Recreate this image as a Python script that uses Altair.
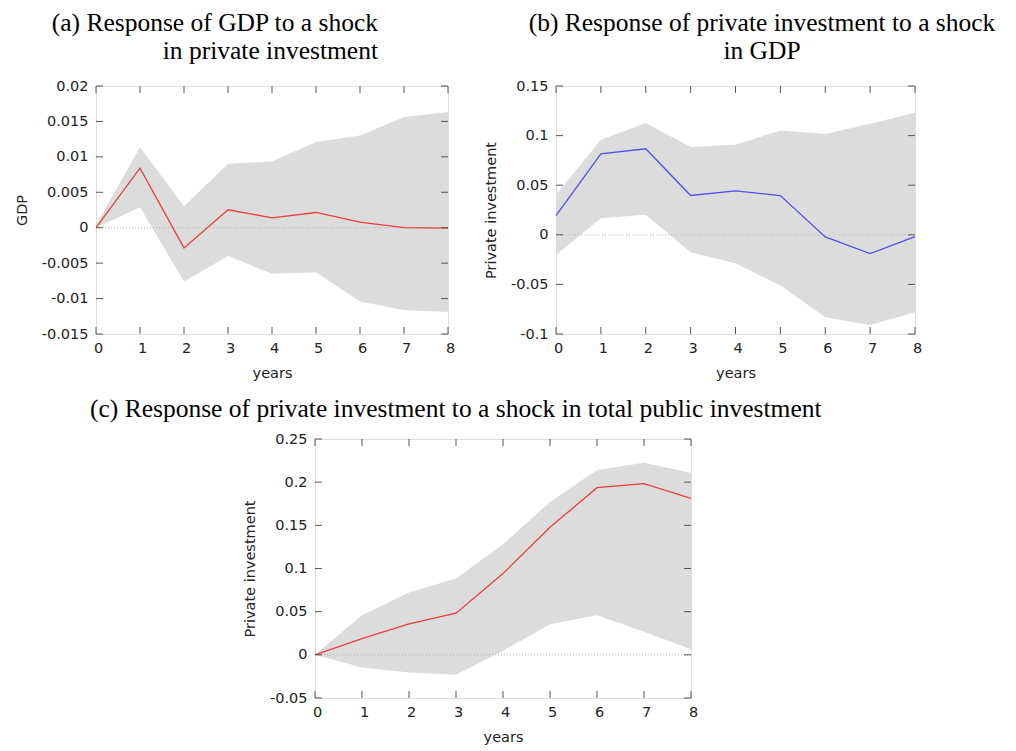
import altair as alt
import pandas as pd

years = list(range(9))

# (a) Response of GDP to a shock in private investment
a_irf = [0.0, 0.0084, -0.00285, 0.00253, 0.0014, 0.00215, 0.00078, 0.0, -0.00005]
a_hi = [0.0004, 0.01137, 0.00304, 0.00903, 0.00935, 0.01209, 0.01303, 0.01562, 0.01633]
a_lo = [0.0, 0.0029, -0.0076, -0.0040, -0.0065, -0.0063, -0.0104, -0.0116, -0.0119]
a_yticks = [-0.015, -0.01, -0.005, 0, 0.005, 0.01, 0.015, 0.02]

# (b) Response of private investment to a shock in GDP
b_irf = [0.0194, 0.0817, 0.0867, 0.0396, 0.0443, 0.0396, -0.0021, -0.019, -0.0018]
b_hi = [0.0403, 0.0958, 0.1127, 0.0884, 0.0908, 0.1052, 0.1015, 0.112, 0.1231]
b_lo = [-0.0203, 0.0168, 0.0201, -0.0176, -0.0287, -0.0512, -0.0832, -0.0909, -0.0781]
b_yticks = [-0.1, -0.05, 0, 0.05, 0.1, 0.15]

# (c) Response of private investment to a shock in total public investment
c_irf = [0.0, 0.0189, 0.0359, 0.0482, 0.0941, 0.1477, 0.1936, 0.1982, 0.1812]
c_hi = [0.0, 0.0459, 0.0721, 0.0883, 0.128, 0.177, 0.214, 0.2225, 0.211]
c_lo = [0.0, -0.0147, -0.0204, -0.0231, 0.0046, 0.0355, 0.0459, 0.0266, 0.0066]
c_yticks = [-0.05, 0, 0.05, 0.1, 0.15, 0.2, 0.25]

title_a = ["(a) Response of GDP to a shock", "in private investment"]
title_b = ["(b) Response of private investment to a shock", "in GDP"]
title_c = ["(c) Response of private investment to a shock in total public investment"]

SANS = "DejaVu Sans"
SERIF = "Liberation Serif"
TICK = "#555555"


def panel(irf, lo, hi, yticks, ydomain, color, ytitle, W, H, titles, title_x, title_align, title_ys):
    df = pd.DataFrame({"year": years, "irf": irf, "lo": lo, "hi": hi})
    xscale = alt.Scale(domain=[0, 8], nice=False)
    yscale = alt.Scale(domain=ydomain, nice=False, zero=False)
    xaxis = alt.Axis(values=years, title="years", tickSize=0, labelPadding=7, titlePadding=12,
                     domain=False, grid=False, labelFont=SANS, titleFont=SANS,
                     labelFontSize=14.5, titleFontSize=14.5, titleFontWeight="normal",
                     labelColor="#222222", titleColor="#222222", labelFlush=False, labelOffset=2)
    yaxis = alt.Axis(values=yticks, title=ytitle, tickSize=0, labelPadding=8, titlePadding=12,
                     domain=False, grid=False, labelFont=SANS, titleFont=SANS,
                     labelFontSize=14.5, titleFontSize=14.5, titleFontWeight="normal",
                     labelColor="#222222", titleColor="#222222",
                     labelExpr="replace(format(datum.value, '~g'), '\u2212', '-')")
    X = lambda f: alt.X(f, scale=xscale, axis=xaxis)
    Y = lambda f: alt.Y(f, scale=yscale, axis=yaxis)

    band = alt.Chart(df).mark_area(color="#dcdcdc", opacity=1).encode(x=X("year:Q"), y=Y("lo:Q"), y2="hi:Q")
    zero = alt.Chart(pd.DataFrame({"z": [0.0]})).mark_rule(color="#b4b4b4", strokeDash=[1, 2], strokeWidth=1).encode(y=Y("z:Q"))
    line = alt.Chart(df).mark_line(color=color, strokeWidth=1.3).encode(x=X("year:Q"), y=Y("irf:Q"))

    xt = pd.DataFrame({"t": years})
    yt = pd.DataFrame({"v": yticks})
    xt_bottom = alt.Chart(xt).mark_rule(color=TICK, strokeWidth=1).encode(x=X("t:Q"), y=alt.value(H), y2=alt.value(H - 7))
    xt_top = alt.Chart(xt).mark_rule(color=TICK, strokeWidth=1).encode(x=X("t:Q"), y=alt.value(0), y2=alt.value(7))
    yt_left = alt.Chart(yt).mark_rule(color=TICK, strokeWidth=1).encode(y=Y("v:Q"), x=alt.value(0), x2=alt.value(7))
    yt_right = alt.Chart(yt).mark_rule(color=TICK, strokeWidth=1).encode(y=Y("v:Q"), x=alt.value(W), x2=alt.value(W - 7))

    layers = [band, zero, line, xt_bottom, xt_top, yt_left, yt_right]
    for t, ty in zip(titles, title_ys):
        layers.append(
            alt.Chart(pd.DataFrame({"s": [t]})).mark_text(
                font=SERIF, fontSize=25.5, color="#000000", align=title_align, baseline="alphabetic"
            ).encode(text="s:N", x=alt.value(title_x), y=alt.value(ty))
        )
    return alt.layer(*layers).properties(width=W, height=H)


pa = panel(a_irf, a_lo, a_hi, a_yticks, [-0.015, 0.02], "#e8403c", "GDP", 352, 248,
           title_a, 282, "right", [-55, -27])
pb = panel(b_irf, b_lo, b_hi, b_yticks, [-0.1, 0.15], "#5050ee", "Private investment", 359, 248,
           title_b, 206, "center", [-55, -27])
pc = panel(c_irf, c_lo, c_hi, c_yticks, [-0.05, 0.25], "#e8403c", "Private investment", 376, 259,
           title_c, -225, "left", [-22])

spacer = alt.Chart(pd.DataFrame({"s": [""]})).mark_text(opacity=0).encode(
    text="s:N", x=alt.value(0), y=alt.value(0)
).properties(width=200, height=259, view=alt.ViewBackground(stroke="transparent"))

row1 = alt.hconcat(pa, pb, spacing=108, bounds="flush")
row2 = alt.hconcat(spacer, pc, spacing=19, bounds="flush")

chart = alt.vconcat(row1, row2, spacing=353, bounds="flush").configure_view(
    stroke="#555555", strokeWidth=1
).configure(background="white", padding={"left": 5, "top": 2, "right": 5, "bottom": 5})

chart.save("out.html", embed_options={"renderer": "svg", "actions": False})
